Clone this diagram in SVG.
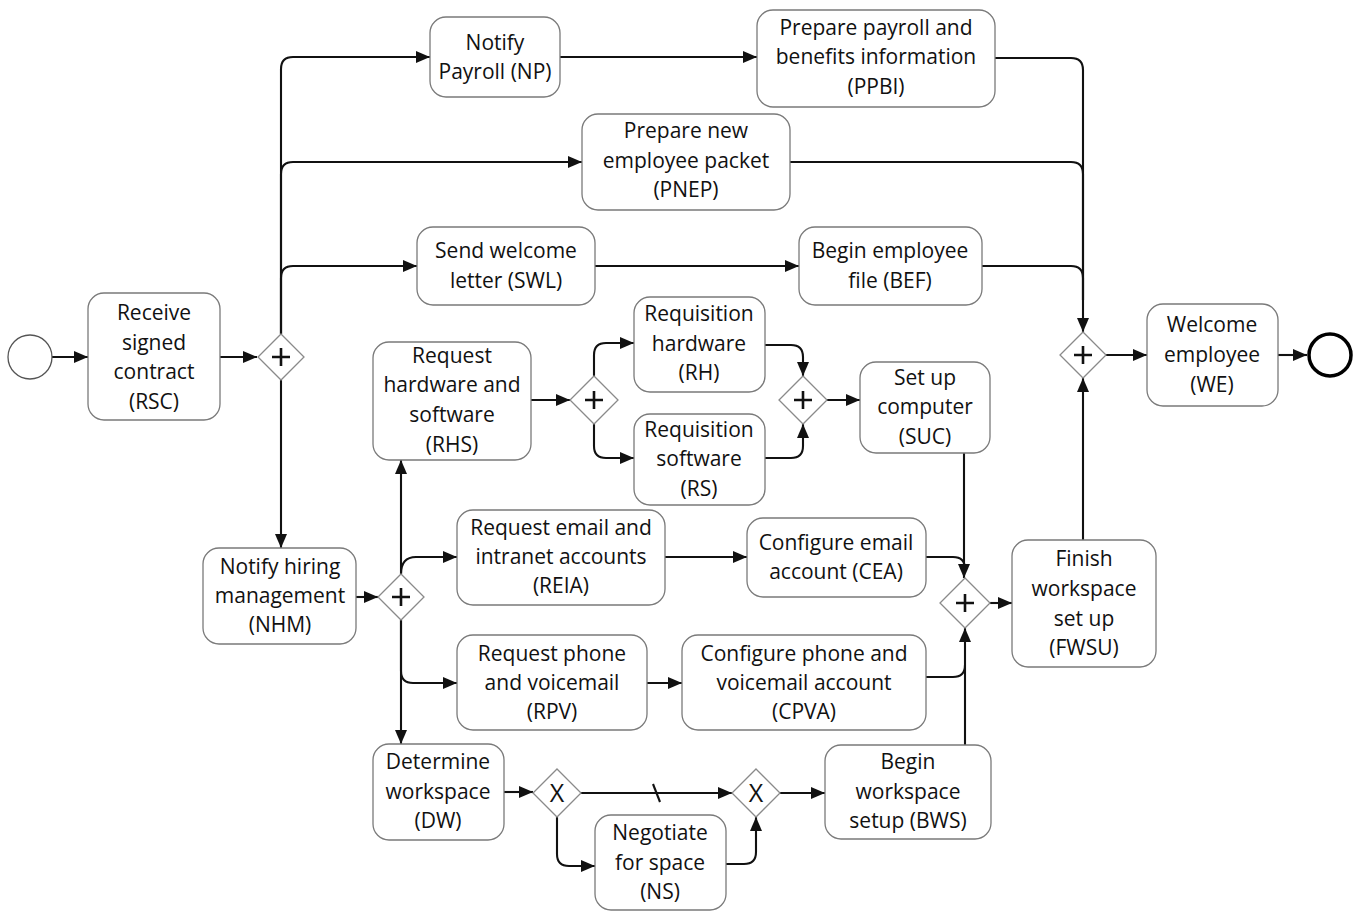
<svg xmlns="http://www.w3.org/2000/svg" width="1358" height="911" viewBox="0 0 1358 911">
<defs>
<style>
.b{fill:#fff;stroke:#7a7a7a;stroke-width:1.3}
.g{fill:#fff;stroke:#8a8a8a;stroke-width:1.3}
.t{font-family:"Open Sans",sans-serif;font-size:21px;fill:#111;text-anchor:middle}
.x{font-family:"Open Sans",sans-serif;font-size:25px;fill:#111;text-anchor:middle}
.p{stroke:#111;stroke-width:2.6;fill:none}
.c{fill:none;stroke:#111;stroke-width:2.1}
.ca{fill:none;stroke:#111;stroke-width:2.1;marker-end:url(#a)}
</style>
<marker id="a" viewBox="0 0 14 12" refX="14" refY="6" markerWidth="14" markerHeight="12" markerUnits="userSpaceOnUse" orient="auto"><path d="M0,0 L14,6 L0,12 z" fill="#111"/></marker>
</defs>
<rect width="1358" height="911" fill="#fff"/>

<g id="connectors">
<path class="ca" d="M52,357 H88"/>
<path class="ca" d="M220,357 H257"/>
<path class="ca" d="M281,334 V69 Q281,57 293,57 H430"/>
<path class="ca" d="M281,334 V174 Q281,162 293,162 H582"/>
<path class="ca" d="M281,334 V278 Q281,266 293,266 H417"/>
<path class="ca" d="M281,380 V548"/>
<path class="ca" d="M560,57 H757"/>
<path class="ca" d="M595,266 H799"/>
<path class="ca" d="M995,58 H1071 Q1083,58 1083,70 V332"/>
<path class="c" d="M790,162 H1071 Q1083,162 1083,174 V300"/>
<path class="c" d="M982,266 H1071 Q1083,266 1083,278 V300"/>
<path class="ca" d="M1106,355 H1147"/>
<path class="ca" d="M1278,355 H1307"/>
<path class="ca" d="M356,597 H378"/>
<path class="ca" d="M401,574 V460"/>
<path class="ca" d="M401,574 Q401,557 416,557 H457"/>
<path class="ca" d="M401,620 V671 Q401,683 413,683 H457"/>
<path class="ca" d="M401,620 V744"/>
<path class="ca" d="M531,400 H570"/>
<path class="ca" d="M594,376 V355 Q594,343 606,343 H634"/>
<path class="ca" d="M594,424 V446 Q594,458 606,458 H634"/>
<path class="ca" d="M765,345 H791 Q803,345 803,357 V376"/>
<path class="ca" d="M765,458 H791 Q803,458 803,446 V424"/>
<path class="ca" d="M827,400 H860"/>
<path class="ca" d="M964,453 V578"/>
<path class="ca" d="M665,557 H747"/>
<path class="c" d="M926,557 H953 Q965,557 965,569"/>
<path class="ca" d="M647,683 H682"/>
<path class="c" d="M926,677 H953 Q965,677 965,665"/>
<path class="ca" d="M965,745 V628"/>
<path class="ca" d="M990,603 H1012"/>
<path class="ca" d="M1083,540 V378"/>
<path class="ca" d="M504,792 H533"/>
<path class="ca" d="M581,793 H732"/>
<path class="c" d="M653,784 L660,802"/>
<path class="ca" d="M557,817 V854 Q557,866 569,866 H595"/>
<path class="ca" d="M726,864 H744 Q756,864 756,852 V817"/>
<path class="ca" d="M780,793 H825"/>
</g>

<g id="start"><circle cx="30" cy="357" r="22" fill="#fff" stroke="#555" stroke-width="1.3"/></g>
<g id="end"><circle cx="1330" cy="355" r="21" fill="#fff" stroke="#000" stroke-width="3.5"/></g>

<g id="RSC"><rect class="b" x="88" y="293" width="132" height="127" rx="16"/><text class="t"><tspan x="154" y="320">Receive</tspan><tspan x="154" y="350">signed</tspan><tspan x="154" y="379">contract</tspan><tspan x="154" y="409">(RSC)</tspan></text></g>
<g id="NP"><rect class="b" x="430" y="17" width="130" height="80" rx="16"/><text class="t"><tspan x="495" y="50">Notify</tspan><tspan x="495" y="79">Payroll (NP)</tspan></text></g>
<g id="PPBI"><rect class="b" x="757" y="10" width="238" height="97" rx="16"/><text class="t"><tspan x="876" y="35">Prepare payroll and</tspan><tspan x="876" y="64">benefits information</tspan><tspan x="876" y="94">(PPBI)</tspan></text></g>
<g id="PNEP"><rect class="b" x="582" y="114" width="208" height="96" rx="16"/><text class="t"><tspan x="686" y="138">Prepare new</tspan><tspan x="686" y="168">employee packet</tspan><tspan x="686" y="197">(PNEP)</tspan></text></g>
<g id="SWL"><rect class="b" x="417" y="227" width="178" height="78" rx="16"/><text class="t"><tspan x="506" y="258">Send welcome</tspan><tspan x="506" y="288">letter (SWL)</tspan></text></g>
<g id="BEF"><rect class="b" x="799" y="227" width="183" height="78" rx="16"/><text class="t"><tspan x="890" y="258">Begin employee</tspan><tspan x="890" y="288">file (BEF)</tspan></text></g>
<g id="WE"><rect class="b" x="1147" y="304" width="131" height="102" rx="16"/><text class="t"><tspan x="1212" y="332">Welcome</tspan><tspan x="1212" y="362">employee</tspan><tspan x="1212" y="392">(WE)</tspan></text></g>
<g id="RHS"><rect class="b" x="373" y="342" width="158" height="118" rx="16"/><text class="t"><tspan x="452" y="363">Request</tspan><tspan x="452" y="392">hardware and</tspan><tspan x="452" y="422">software</tspan><tspan x="452" y="452">(RHS)</tspan></text></g>
<g id="RH"><rect class="b" x="634" y="297" width="131" height="95" rx="16"/><text class="t"><tspan x="699" y="321">Requisition</tspan><tspan x="699" y="351">hardware</tspan><tspan x="699" y="380">(RH)</tspan></text></g>
<g id="RS"><rect class="b" x="634" y="414" width="131" height="91" rx="16"/><text class="t"><tspan x="699" y="437">Requisition</tspan><tspan x="699" y="466">software</tspan><tspan x="699" y="496">(RS)</tspan></text></g>
<g id="SUC"><rect class="b" x="860" y="362" width="130" height="91" rx="16"/><text class="t"><tspan x="925" y="385">Set up</tspan><tspan x="925" y="414">computer</tspan><tspan x="925" y="444">(SUC)</tspan></text></g>
<g id="NHM"><rect class="b" x="203" y="548" width="153" height="96" rx="16"/><text class="t"><tspan x="280" y="574">Notify hiring</tspan><tspan x="280" y="603">management</tspan><tspan x="280" y="632">(NHM)</tspan></text></g>
<g id="REIA"><rect class="b" x="457" y="510" width="208" height="95" rx="16"/><text class="t"><tspan x="561" y="535">Request email and</tspan><tspan x="561" y="564">intranet accounts</tspan><tspan x="561" y="593">(REIA)</tspan></text></g>
<g id="CEA"><rect class="b" x="747" y="518" width="179" height="79" rx="16"/><text class="t"><tspan x="836" y="550">Configure email</tspan><tspan x="836" y="579">account (CEA)</tspan></text></g>
<g id="RPV"><rect class="b" x="457" y="635" width="190" height="95" rx="16"/><text class="t"><tspan x="552" y="661">Request phone</tspan><tspan x="552" y="690">and voicemail</tspan><tspan x="552" y="719">(RPV)</tspan></text></g>
<g id="CPVA"><rect class="b" x="682" y="635" width="244" height="95" rx="16"/><text class="t"><tspan x="804" y="661">Configure phone and</tspan><tspan x="804" y="690">voicemail account</tspan><tspan x="804" y="719">(CPVA)</tspan></text></g>
<g id="FWSU"><rect class="b" x="1012" y="540" width="144" height="127" rx="16"/><text class="t"><tspan x="1084" y="566">Finish</tspan><tspan x="1084" y="596">workspace</tspan><tspan x="1084" y="626">set up</tspan><tspan x="1084" y="655">(FWSU)</tspan></text></g>
<g id="DW"><rect class="b" x="373" y="744" width="131" height="96" rx="16"/><text class="t"><tspan x="438" y="769">Determine</tspan><tspan x="438" y="799">workspace</tspan><tspan x="438" y="828">(DW)</tspan></text></g>
<g id="NS"><rect class="b" x="595" y="815" width="131" height="95" rx="16"/><text class="t"><tspan x="660" y="840">Negotiate</tspan><tspan x="660" y="870">for space</tspan><tspan x="660" y="899">(NS)</tspan></text></g>
<g id="BWS"><rect class="b" x="825" y="745" width="166" height="94" rx="16"/><text class="t"><tspan x="908" y="769">Begin</tspan><tspan x="908" y="799">workspace</tspan><tspan x="908" y="828">setup (BWS)</tspan></text></g>

<g id="gw1"><path class="g" d="M281,334 L304,357 L281,380 L258,357 Z"/><path class="p" d="M281,348 V366 M272,357 H290"/></g>
<g id="gw2"><path class="g" d="M594,376 L618,400 L594,424 L570,400 Z"/><path class="p" d="M594,391 V409 M585,400 H603"/></g>
<g id="gw3"><path class="g" d="M803,376 L827,400 L803,424 L779,400 Z"/><path class="p" d="M803,391 V409 M794,400 H812"/></g>
<g id="gw4"><path class="g" d="M965,578 L990,603 L965,628 L940,603 Z"/><path class="p" d="M965,594 V612 M956,603 H974"/></g>
<g id="gw5"><path class="g" d="M401,574 L424,597 L401,620 L378,597 Z"/><path class="p" d="M401,588 V606 M392,597 H410"/></g>
<g id="gw8"><path class="g" d="M1083,332 L1106,355 L1083,378 L1060,355 Z"/><path class="p" d="M1083,346 V364 M1074,355 H1092"/></g>
<g id="gw6"><path class="g" d="M557,769 L581,793 L557,817 L533,793 Z"/><text class="x" x="557" y="802">X</text></g>
<g id="gw7"><path class="g" d="M756,769 L780,793 L756,817 L732,793 Z"/><text class="x" x="756" y="802">X</text></g>
</svg>
